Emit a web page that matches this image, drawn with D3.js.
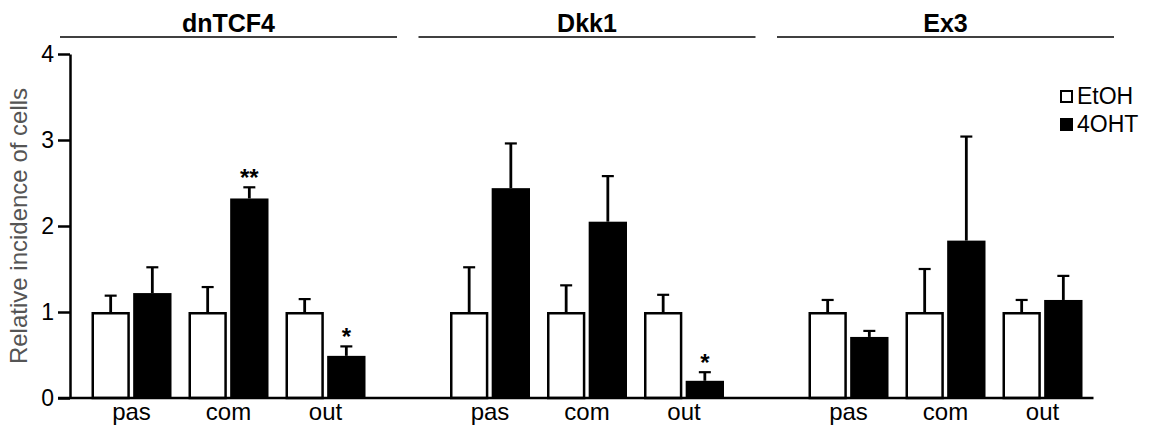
<!DOCTYPE html>
<html>
<head>
<meta charset="utf-8">
<script src="https://cdn.jsdelivr.net/npm/d3@7"></script>
<style>
  body { margin: 0; background: #fff; }
  text { font-family: "Liberation Sans", Arial, sans-serif; }
</style>
</head>
<body>
<svg id="chart" width="1150" height="427"></svg>
<script>
const groups = ["dnTCF4", "Dkk1", "Ex3"];
const categories = ["pas", "com", "out"];
const series = ["EtOH", "4OHT"];

// values per group, in category order
const etohMean = [[1, 1, 1], [1, 1, 1], [1, 1, 1]];
const etohErr = [[0.19, 0.29, 0.15], [0.52, 0.31, 0.2], [0.14, 0.5, 0.14]];
const ohtMean = [[1.22, 2.32, 0.49], [2.44, 2.05, 0.2], [0.71, 1.83, 1.14]];
const ohtErr = [[0.3, 0.13, 0.11], [0.52, 0.53, 0.1], [0.07, 1.21, 0.28]];

const yTicks = [0, 1, 2, 3, 4];
const signif = [
  { group: "dnTCF4", cat: "com", label: "**" },
  { group: "dnTCF4", cat: "out", label: "*" },
  { group: "Dkk1", cat: "out", label: "*" }
];

const svg = d3.select("#chart");

const yScale = d3.scaleLinear().domain([0, 4]).range([398, 54]);
const xGroup = d3.scaleBand().domain(groups).range([49.25, 1124.75]);
const xCat = d3.scalePoint().domain(categories).range([-97, 97]);
const xSeries = d3.scaleBand().domain(series).range([-40, 40]).paddingInner(0.08);

const data = [];
groups.forEach((g, gi) => {
  categories.forEach((c, ci) => {
    data.push({ group: g, cat: c, series: "EtOH", value: etohMean[gi][ci], err: etohErr[gi][ci] });
    data.push({ group: g, cat: c, series: "4OHT", value: ohtMean[gi][ci], err: ohtErr[gi][ci] });
  });
});

const center = (d) => xGroup(d.group) + xGroup.bandwidth() / 2 + xCat(d.cat);

// group headers
const header = svg.append("g");
groups.forEach((g) => {
  const cx = xGroup(g) + xGroup.bandwidth() / 2;
  header.append("line")
    .attr("x1", cx - 168.5).attr("x2", cx + 168.5)
    .attr("y1", 37).attr("y2", 37)
    .attr("stroke", "#000").attr("stroke-width", 1.6);
  header.append("text")
    .attr("x", cx).attr("y", 32)
    .attr("text-anchor", "middle")
    .attr("font-size", 25).attr("font-weight", "bold")
    .text(g);
});

// y axis
const axisY = d3.axisLeft(yScale).tickValues(yTicks).tickFormat(d3.format("d"))
  .tickSize(12).tickSizeOuter(0).tickPadding(4);
const axisYGroup = svg.append("g")
  .attr("transform", "translate(70,0)")
  .call(axisY);
axisYGroup.selectAll("path, line").attr("stroke", "#000").attr("stroke-width", 2.5);
axisYGroup.selectAll("text").attr("font-size", 23).attr("fill", "#000")
  .attr("font-family", "Liberation Sans, Arial, sans-serif");

svg.append("text")
  .attr("transform", `translate(27,${yScale(2)}) rotate(-90)`)
  .attr("text-anchor", "middle")
  .attr("font-size", 24)
  .attr("fill", "#555")
  .text("Relative incidence of cells");

// bars
const barW = xSeries.bandwidth();
const bars = svg.append("g");
bars.selectAll("rect")
  .data(data)
  .join("rect")
  .attr("x", (d) => center(d) + xSeries(d.series) + (d.series === "EtOH" ? 1.25 : 0))
  .attr("y", (d) => yScale(d.value) + (d.series === "EtOH" ? 1.25 : 0))
  .attr("width", (d) => barW - (d.series === "EtOH" ? 2.5 : 0))
  .attr("height", (d) => yScale(0) - yScale(d.value) - (d.series === "EtOH" ? 1.25 : 0))
  .attr("fill", (d) => (d.series === "EtOH" ? "#fff" : "#000"))
  .attr("stroke", (d) => (d.series === "EtOH" ? "#000" : "none"))
  .attr("stroke-width", 2.5);

// error bars (upper only)
const errs = svg.append("g").attr("stroke", "#000");
data.forEach((d) => {
  const cx = center(d) + xSeries(d.series) + barW / 2;
  errs.append("line")
    .attr("x1", cx).attr("x2", cx)
    .attr("y1", yScale(d.value)).attr("y2", yScale(d.value + d.err))
    .attr("stroke-width", 2.8);
  errs.append("line")
    .attr("x1", cx - 6).attr("x2", cx + 6)
    .attr("y1", yScale(d.value + d.err)).attr("y2", yScale(d.value + d.err))
    .attr("stroke-width", 2.2);
});

// x baseline
svg.append("line")
  .attr("x1", 58)
  .attr("x2", xGroup("Ex3") + xGroup.bandwidth() / 2 + xCat("out") + 51)
  .attr("y1", yScale(0)).attr("y2", yScale(0))
  .attr("stroke", "#000").attr("stroke-width", 2.5);

// category labels
const catLabels = svg.append("g");
data.filter((d) => d.series === "EtOH").forEach((d) => {
  catLabels.append("text")
    .attr("x", center(d)).attr("y", 420)
    .attr("text-anchor", "middle")
    .attr("font-size", 24)
    .text(d.cat);
});

// significance stars
signif.forEach((s) => {
  const d = data.find((e) => e.group === s.group && e.cat === s.cat && e.series === "4OHT");
  svg.append("text")
    .attr("x", center(d) + xSeries("4OHT") + barW / 2)
    .attr("y", yScale(d.value + d.err) - 1)
    .attr("text-anchor", "middle")
    .attr("font-size", 24).attr("font-weight", "bold")
    .text(s.label);
});

// legend
const legend = svg.append("g").attr("transform", "translate(1060,90)");
series.forEach((s, i) => {
  legend.append("rect")
    .attr("x", 1).attr("y", i * 28 + 1)
    .attr("width", 11).attr("height", 11)
    .attr("fill", s === "EtOH" ? "#fff" : "#000")
    .attr("stroke", "#000").attr("stroke-width", 2);
  legend.append("text")
    .attr("x", 17).attr("y", i * 28 + 14)
    .attr("font-size", 23)
    .text(s);
});
</script>
</body>
</html>
